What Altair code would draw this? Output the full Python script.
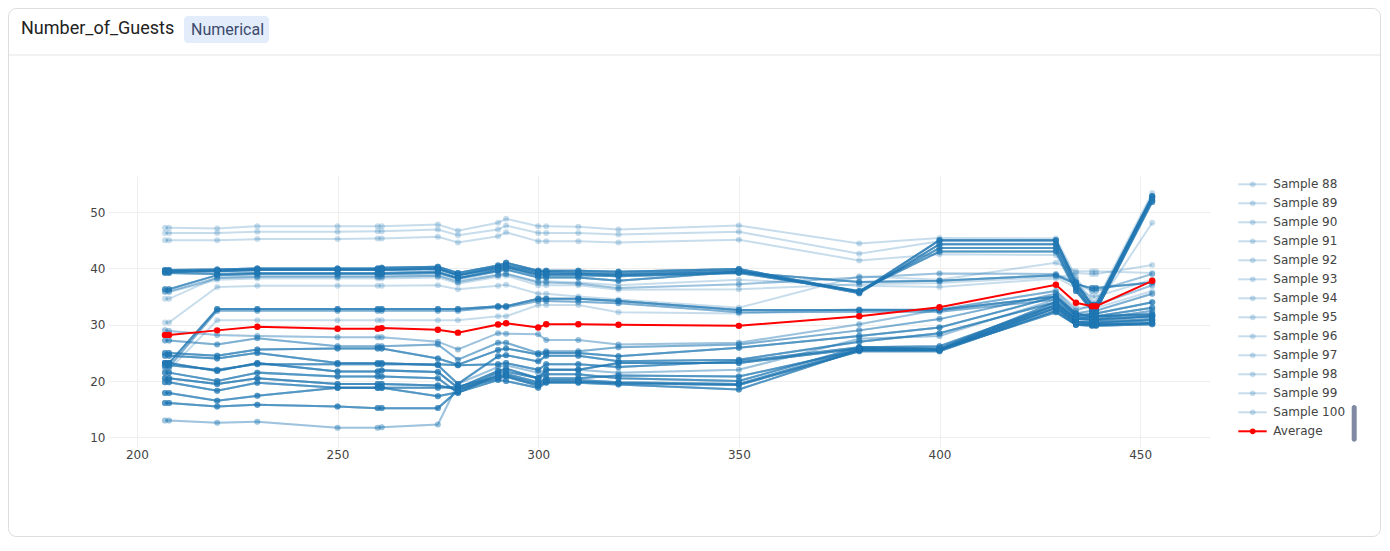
import altair as alt
import pandas as pd

# ---------------- data ----------------
X = [207, 208, 220, 230, 250, 260, 261, 275, 280, 290, 292, 300, 302, 310,
     320, 350, 380, 400, 429, 434, 438, 439, 453]

AVERAGE = [28.2, 28.2, 29.0, 29.65, 29.3, 29.3, 29.4, 29.1, 28.6, 30.05, 30.25, 29.5,
           30.1, 30.1, 30.0, 29.8, 31.5, 33.1, 37.1, 33.9, 33.3, 33.3, 37.8]

# sample curve shapes (many samples share the same shape and overlap)
T1 = [47.2, 47.2, 47.1, 47.5, 47.5, 47.5, 47.5, 47.8, 46.7, 48.1, 48.8, 47.5, 47.5, 47.4, 46.9, 47.6, 44.4, 45.4, 45.3, 38.5, 34.0, 34.0, 53.4]
T2 = [46.3, 46.3, 46.3, 46.5, 46.5, 46.6, 46.6, 46.9, 45.9, 46.9, 47.6, 46.3, 46.3, 46.3, 46.0, 46.5, 42.6, 44.8, 44.8, 38.0, 33.5, 33.5, 52.9]
T3 = [45.0, 45.0, 45.0, 45.2, 45.2, 45.3, 45.3, 45.6, 44.6, 45.7, 46.4, 44.8, 44.8, 44.8, 44.6, 45.1, 41.4, 42.5, 42.4, 36.0, 33.0, 33.0, 48.1]
F40A = [39.7, 39.7, 39.8, 40.0, 40.0, 40.0, 40.1, 40.3, 39.2, 40.5, 41.0, 39.6, 39.6, 39.6, 39.4, 39.9, 35.8, 45.0, 45.0, 37.5, 33.5, 33.5, 52.8]
F40B = [39.4, 39.4, 39.5, 39.7, 39.7, 39.7, 39.7, 39.9, 38.8, 40.2, 40.6, 39.3, 39.3, 39.2, 39.0, 39.6, 35.6, 44.3, 44.3, 37.0, 33.0, 33.0, 52.5]
F40C = [39.2, 39.2, 39.0, 39.2, 39.2, 39.2, 39.2, 39.4, 38.3, 39.7, 40.2, 38.8, 38.8, 38.8, 38.6, 39.2, 35.9, 43.6, 43.6, 36.5, 32.5, 32.5, 52.1]
M40 = [39.5, 39.5, 39.6, 39.8, 39.8, 39.8, 39.8, 40.0, 38.8, 40.0, 40.3, 39.0, 39.0, 39.0, 38.8, 39.3, 37.6, 37.8, 38.8, 37.2, 36.5, 36.5, 37.5]
F36A = [36.3, 36.3, 38.8, 39.0, 39.0, 39.0, 39.0, 39.2, 38.2, 39.5, 39.8, 38.4, 38.4, 38.4, 37.8, 39.4, 36.0, 43.0, 43.0, 36.0, 32.5, 32.5, 51.8]
F36B = [35.9, 35.9, 38.3, 38.5, 38.5, 38.5, 38.5, 38.7, 37.6, 38.8, 39.0, 37.5, 37.5, 37.3, 36.5, 37.2, 38.4, 39.1, 39.0, 37.5, 36.0, 36.0, 39.0]
F36C = [35.8, 35.8, 38.0, 38.2, 38.2, 38.2, 38.2, 38.4, 37.3, 38.5, 38.7, 37.0, 37.0, 37.0, 36.2, 36.3, 37.2, 37.4, 38.5, 36.5, 35.0, 35.0, 38.0]
S34 = [34.6, 34.6, 38.4, 38.6, 38.6, 38.6, 38.6, 38.8, 37.9, 38.9, 39.1, 37.7, 37.7, 37.5, 37.0, 38.0, 36.9, 36.7, 38.2, 39.2, 39.0, 39.0, 40.6]
S30 = [30.4, 30.4, 36.7, 36.9, 36.9, 36.9, 36.9, 37.0, 36.3, 36.9, 37.1, 35.5, 35.5, 35.0, 34.5, 33.0, 38.6, 38.0, 41.0, 39.5, 39.5, 39.5, 39.2]
F32A = [23.2, 23.2, 32.8, 32.8, 32.8, 32.8, 32.8, 32.8, 32.8, 33.3, 33.3, 34.6, 34.6, 34.6, 34.2, 32.6, 32.6, 32.6, 35.0, 32.0, 31.5, 31.5, 31.8]
F32B = [22.5, 22.5, 32.5, 32.5, 32.5, 32.5, 32.5, 32.5, 32.5, 33.1, 33.1, 34.2, 34.2, 34.1, 33.8, 32.2, 32.3, 32.3, 34.5, 31.5, 31.0, 31.0, 32.5]
F30 = [22.0, 22.0, 30.8, 30.8, 30.8, 30.8, 30.8, 30.8, 30.8, 31.5, 31.5, 33.5, 33.5, 33.5, 32.2, 32.0, 32.8, 32.7, 36.0, 33.0, 33.0, 33.0, 36.0]
L1 = [29.0, 28.9, 28.2, 28.0, 27.8, 27.8, 27.8, 27.0, 25.6, 28.5, 28.4, 28.3, 27.3, 27.3, 26.5, 26.8, 30.1, 32.7, 36.0, 32.5, 33.5, 33.5, 37.0]
L2 = [27.2, 27.2, 26.5, 27.6, 26.2, 26.2, 26.2, 26.5, 23.8, 26.8, 26.8, 25.0, 25.3, 25.3, 26.0, 26.5, 29.0, 31.0, 35.5, 32.0, 32.5, 32.5, 35.5]
L3 = [25.0, 25.0, 24.5, 25.6, 25.8, 25.8, 25.8, 24.0, 22.9, 25.5, 25.8, 24.7, 25.0, 25.0, 24.4, 25.9, 28.0, 29.5, 35.0, 31.5, 32.0, 32.0, 34.0]
L4 = [24.5, 24.5, 24.0, 25.0, 23.2, 23.2, 23.2, 22.8, 19.5, 24.4, 24.6, 23.5, 24.5, 24.5, 23.5, 23.8, 27.0, 28.5, 34.0, 31.0, 31.5, 31.5, 33.0]
L5 = [23.2, 23.2, 21.8, 23.2, 21.7, 21.7, 21.9, 21.6, 18.8, 21.8, 22.2, 20.5, 22.0, 22.0, 23.2, 23.2, 25.8, 25.6, 33.5, 30.5, 30.3, 30.3, 30.8]
L6 = [22.8, 22.8, 22.0, 23.0, 23.0, 23.0, 23.0, 23.0, 22.8, 23.0, 23.2, 22.0, 23.0, 23.0, 22.5, 23.5, 26.0, 25.8, 34.0, 31.0, 30.8, 30.8, 31.5]
L7 = [21.5, 21.5, 20.0, 21.5, 20.8, 20.8, 20.8, 20.5, 17.9, 21.1, 21.3, 19.8, 20.5, 20.5, 21.0, 20.8, 25.5, 25.5, 33.0, 30.3, 30.0, 30.0, 30.3]
L8 = [20.5, 20.5, 19.5, 20.5, 19.5, 19.5, 19.5, 19.2, 18.5, 20.5, 20.8, 19.2, 19.9, 19.9, 19.6, 19.3, 25.3, 25.3, 32.5, 30.0, 29.8, 29.8, 30.1]
L9 = [19.8, 19.8, 18.3, 19.7, 18.8, 18.8, 18.8, 17.3, 18.0, 20.2, 20.0, 18.8, 19.7, 19.7, 19.4, 18.5, 25.5, 25.5, 32.2, 30.0, 30.0, 30.0, 30.3]
L10 = [17.9, 17.9, 16.5, 17.4, 18.8, 18.8, 18.8, 18.8, 19.0, 20.8, 21.0, 19.5, 20.2, 20.2, 19.8, 19.5, 25.6, 25.6, 33.0, 30.5, 30.5, 30.5, 31.0]
L11 = [16.1, 16.1, 15.5, 15.8, 15.5, 15.2, 15.2, 15.2, 18.3, 21.5, 21.7, 20.5, 21.2, 21.2, 20.5, 20.0, 26.0, 26.2, 33.5, 31.0, 31.0, 31.0, 31.5]
L12 = [13.0, 13.0, 12.6, 12.8, 11.7, 11.7, 11.8, 12.3, 19.5, 22.5, 22.8, 21.5, 22.0, 22.0, 21.5, 22.0, 27.5, 28.0, 34.5, 31.5, 31.5, 31.5, 32.0]

SHAPES = [T1, T2, T3, F40A, F40B, F40C, M40, F36A, F36B, F36C, S34, S30, F32A, F32B, F30,
          L1, L2, L3, L4, L5, L6, L7, L8, L9, L10, L11, L12]
SHAPE_COUNTS = [1, 1, 1, 7, 6, 5, 5, 5, 2, 1, 1, 1, 6, 3, 1,
                2, 3, 5, 5, 6, 5, 5, 6, 5, 5, 5, 2]

LEGEND_SHOWN = [f"Sample {i}" for i in range(88, 101)] + ["Average"]

TITLE = "Number_of_Guests"
BADGE = "Numerical"

assert sum(SHAPE_COUNTS) == 100
assert all(len(s) == len(X) for s in SHAPES)

# ---------------- tables ----------------
rows = []
k = 0
for shape, n in zip(SHAPES, SHAPE_COUNTS):
    for _ in range(n):
        k += 1
        for xv, yv in zip(X, shape):
            rows.append({"x": xv, "y": yv, "series": f"Sample {k}"})
samples = pd.DataFrame(rows)
avg = pd.DataFrame({"x": X, "y": AVERAGE})

BLUE = "#1f77b4"
leg = pd.DataFrame({
    "idx": list(range(len(LEGEND_SHOWN))),
    "entry": LEGEND_SHOWN,
    "col": [BLUE] * (len(LEGEND_SHOWN) - 1) + ["#ff0000"],
    "op": [0.25] * (len(LEGEND_SHOWN) - 1) + [1.0],
})

FONT = "DejaVu Sans"
xs = alt.Scale(domain=[192.8, 467.4], nice=False, zero=False)
ys = alt.Scale(domain=[8.3, 56.4], nice=False, zero=False)
xaxis = alt.Axis(values=[200, 250, 300, 350, 400, 450], title=None, grid=True,
                 gridColor="#eeeeee", domain=False, ticks=False, tickSize=0,
                 labelPadding=2, labelColor="#444444", labelFont=FONT,
                 labelFontSize=12, format="d")
yaxis = alt.Axis(values=[10, 20, 30, 40, 50], title=None, grid=True,
                 gridColor="#eeeeee", domain=False, ticks=False, tickSize=0,
                 labelPadding=3, labelColor="#444444", labelFont=FONT,
                 labelFontSize=12, format="d")

enc_x = alt.X("x:Q", scale=xs, axis=xaxis)
enc_y = alt.Y("y:Q", scale=ys, axis=yaxis)

s_line = alt.Chart(samples).mark_line(color=BLUE, strokeWidth=2, opacity=0.25).encode(
    x=enc_x, y=enc_y, detail="series:N")
s_pts = alt.Chart(samples).mark_circle(color=BLUE, size=36, opacity=0.25).encode(
    x="x:Q", y="y:Q", detail="series:N")
a_line = alt.Chart(avg).mark_line(color="#ff0000", strokeWidth=2).encode(x="x:Q", y="y:Q")
a_pts = alt.Chart(avg).mark_circle(color="#ff0000", size=42, opacity=1).encode(x="x:Q", y="y:Q")
plot = alt.layer(s_line, s_pts, a_line, a_pts)

# ---------------- card / header ----------------
one = pd.DataFrame({"t": [TITLE]})
card = alt.Chart(one).mark_rect(fill="white", fillOpacity=0, stroke="#dddddd", strokeWidth=1,
                                cornerRadius=8).encode(
    x=alt.value(-99.5), x2=alt.value(1272.5), y=alt.value(-167.5), y2=alt.value(360.5))
sep = alt.Chart(one).mark_rule(color="#e3e3e3", strokeWidth=1).encode(
    x=alt.value(-99.5), x2=alt.value(1272.5), y=alt.value(-121))
title = alt.Chart(one).mark_text(align="left", baseline="middle", font="Roboto",
                                 fontSize=18, color="#222222").encode(
    x=alt.value(-87), y=alt.value(-147), text="t:N")
badge = alt.Chart(one).mark_rect(fill="#e2ecfb", cornerRadius=4).encode(
    x=alt.value(76), x2=alt.value(161), y=alt.value(-160), y2=alt.value(-133))
badge_txt = alt.Chart(pd.DataFrame({"t": [BADGE]})).mark_text(
    align="left", baseline="middle", font="Roboto", fontSize=16, color="#3c4a6c").encode(
    x=alt.value(83), y=alt.value(-146.5), text="t:N")

# ---------------- legend ----------------
leg_y = alt.Y("idx:Q", scale=alt.Scale(domain=[0, len(LEGEND_SHOWN) - 1], range=[8.3, 255.3]),
              axis=None)
leg_rule = alt.Chart(leg).mark_rule(strokeWidth=2).encode(
    x=alt.value(1130.3), x2=alt.value(1158.7), y=leg_y,
    color=alt.Color("col:N", scale=None), opacity=alt.Opacity("op:Q", scale=None))
leg_pt = alt.Chart(leg).mark_circle(size=32).encode(
    x=alt.value(1144.7), y="idx:Q",
    color=alt.Color("col:N", scale=None), opacity=alt.Opacity("op:Q", scale=None))
leg_txt = alt.Chart(leg).mark_text(align="left", baseline="middle", font=FONT,
                                   fontSize=12, color="#444444").encode(
    x=alt.value(1165.3), y="idx:Q", text="entry:N")
legend = alt.layer(leg_rule, leg_pt, leg_txt)

scrollbar = alt.Chart(one).mark_rect(fill="#8089a3", cornerRadius=2.5).encode(
    x=alt.value(1243.7), x2=alt.value(1248.7), y=alt.value(229), y2=alt.value(265.7))

chart = alt.layer(card, sep, title, badge, badge_txt, plot, legend, scrollbar).resolve_scale(
    y="independent"
).properties(width=1102, height=271, padding=0).configure_view(stroke="transparent")

chart.save("out.html", embed_options={"renderer": "svg", "actions": False})
